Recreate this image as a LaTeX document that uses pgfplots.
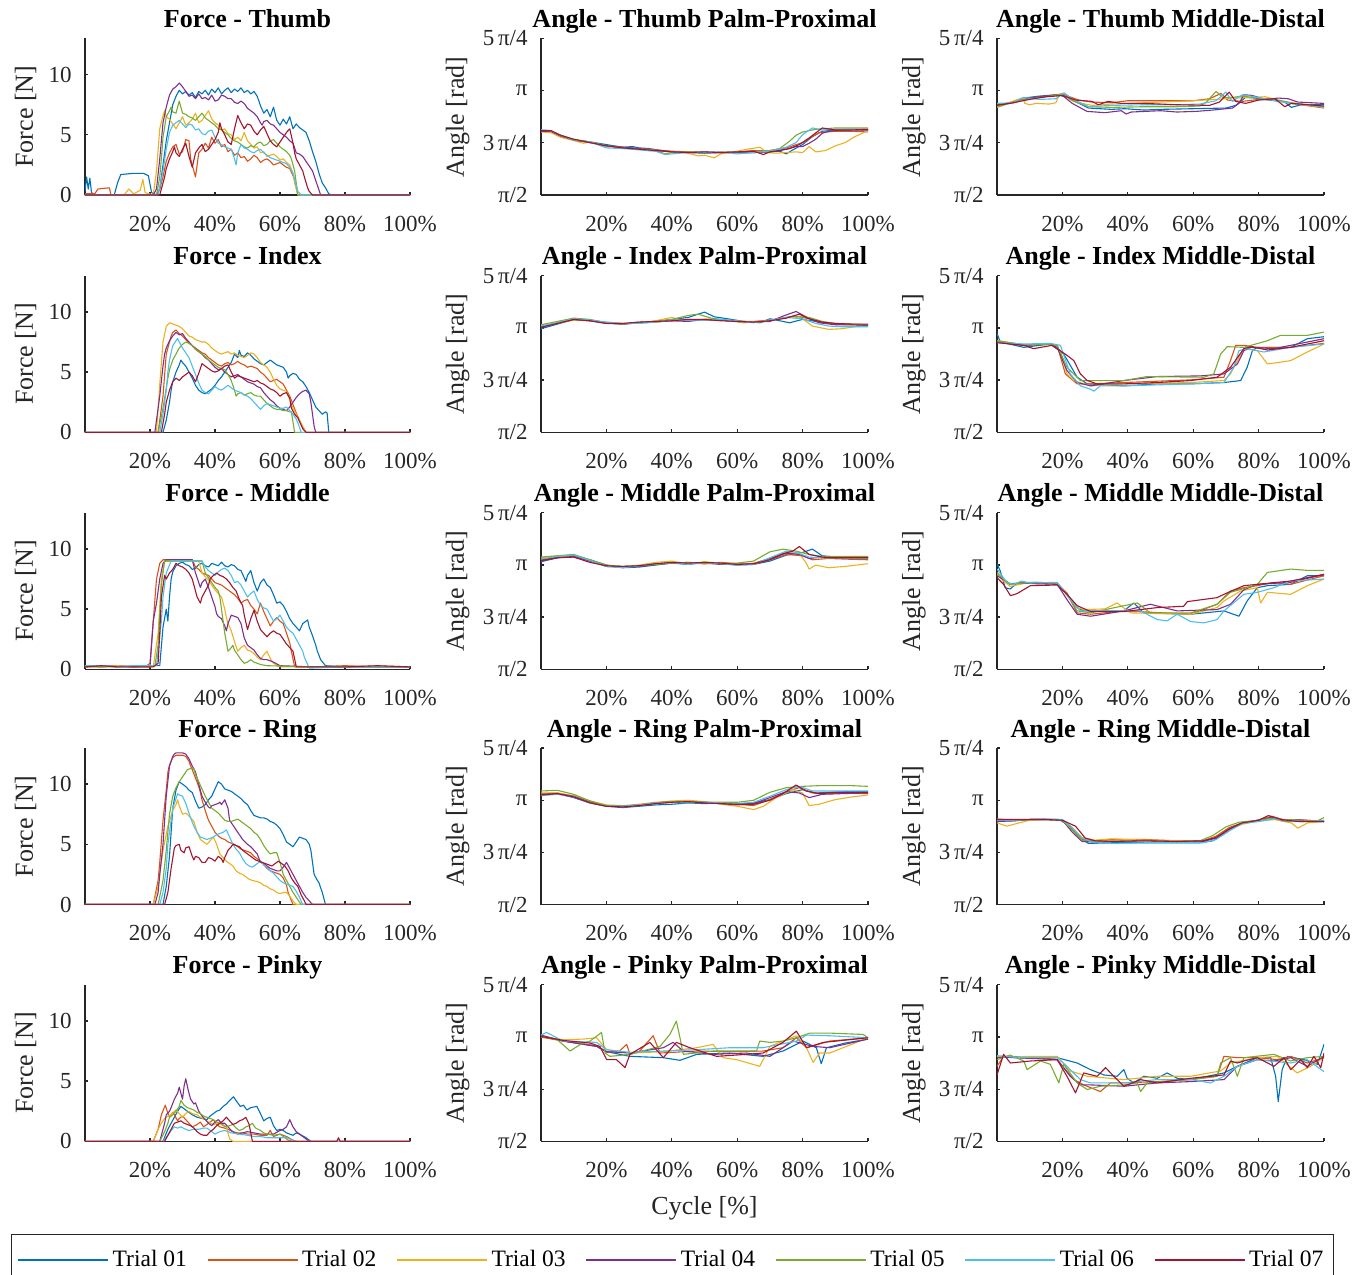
\documentclass[border=0pt]{standalone}
\usepackage{fontspec}
\setmainfont{Liberation Serif}
\usepackage{pgfplots}
\pgfplotsset{compat=1.18}
\definecolor{axcol}{gray}{0.15}
\definecolor{c1}{rgb}{0,0.447,0.741}
\definecolor{c2}{rgb}{0.85,0.325,0.098}
\definecolor{c3}{rgb}{0.929,0.694,0.125}
\definecolor{c4}{rgb}{0.494,0.184,0.556}
\definecolor{c5}{rgb}{0.466,0.674,0.188}
\definecolor{c6}{rgb}{0.301,0.745,0.933}
\definecolor{c7}{rgb}{0.635,0.078,0.184}
\newcommand\tickfont{\fontsize{11.5}{13}\selectfont}
\newcommand\labfont{\fontsize{13}{15}\selectfont}
\newcommand\titfont{\fontsize{13}{15}\selectfont\bfseries}
\newcommand\legfont{\fontsize{11.75}{14}\selectfont}
\pgfplotsset{
  base/.style={
    cycle list={{c1},{c2},{c3},{c4},{c5},{c6},{c7}},
    scale only axis, height=78.25pt, anchor=south west,
    axis lines*=left, xmin=0, xmax=100,
    xtick={20,40,60,80,100}, xticklabels={20\%,40\%,60\%,80\%,100\%},
    tick align=inside, major tick length=1.7pt,
    axis line style={axcol, line width=0.65pt},
    every tick/.style={axcol, line width=0.65pt},
    tick label style={font=\tickfont, text=axcol},
    xticklabel style={anchor=base, yshift=-18pt, inner sep=0pt},
    yticklabel style={anchor=east, xshift=-6.5pt, inner sep=0pt},
    title style={font=\titfont, anchor=base, at={(0.5,1)}, yshift=-0.5pt},
    no markers,
    every axis plot/.append style={line width=0.55pt, line join=round},
  },
  force/.style={base, width=162.5pt, ymin=0, ymax=13, ytick={0,5,10}, yticklabels={0,5,10},
    ylabel={Force [N]}, ylabel style={font=\labfont, text=axcol, at={(axis description cs:-0.16,0.5)}, anchor=base}},
  angle/.style={base, width=163.5pt, ymin=1.570796, ymax=3.926991,
    ytick={1.570796,2.356194,3.141593,3.926991}, yticklabels={π/2,3\,π/4,π,5\,π/4},
    ylabel={Angle [rad]}, ylabel style={font=\labfont, text=axcol, at={(axis description cs:-0.2355,0.5)}, anchor=base}},
}
\begin{document}
\begin{tikzpicture}
\useasboundingbox (0,0) rectangle (684.5pt,-637pt);
%================ ROW 1 =================
\begin{axis}[force, at={(42.5pt,-97.5pt)}, title={Force - Thumb}]
\addplot coordinates {(0,0.3)(0.5,1.5)(1,0.5)(1.5,1.4)(2,0.2)(3,0)(9,0)(10,1.0)(11,1.7)(15,1.8)(18,1.8)(19.5,1.6)(20.5,0.2)(22,0)(23,0.5)(24,2.5)(25,4.5)(26,6.0)(27,7.5)(28,8.2)(29,8.7)(30,8.4)(31,8.6)(32,8.3)(33,8.5)(34,8.1)(35,8.6)(36,8.4)(37,8.7)(38,8.3)(39,8.8)(40,8.5)(41,8.9)(42,8.4)(43,8.7)(44,8.9)(45,8.5)(46,8.8)(47,8.6)(48,8.9)(49,8.5)(50,8.7)(51,8.4)(52,8.6)(53,8.2)(54,7.4)(55,6.8)(56,7.1)(57,6.5)(58,7.3)(59,6.2)(60,5.8)(61,6.3)(62,5.9)(63,6.5)(64,5.5)(65,5.9)(66,5.6)(67,5.4)(68,5.2)(69,4.5)(70,3.6)(71,2.8)(72,1.8)(73,1.0)(74,0.6)(75,0.1)(76,0)(100,0)};
\addplot coordinates {(0,0.1)(3,0.1)(4,0.5)(7.5,0.6)(8,0)(22,0)(23,0.5)(24,1.5)(25,2.8)(26,3.5)(27,4.0)(28,4.2)(29,3.4)(30,3.6)(31,4.6)(32,4.5)(32.5,3.0)(33,2.5)(34,1.5)(35,3.5)(36,3.8)(37,4.3)(38,3.9)(39,4.8)(40,4.3)(41,4.6)(42,4.0)(43,4.2)(44,3.6)(45,3.8)(46,3.3)(47,3.5)(48,3.1)(49,3.2)(50,2.8)(51,3.0)(52,3.3)(53,3.1)(54,2.7)(55,2.9)(56,3.0)(57,2.8)(58,2.5)(59,2.6)(60,2.7)(61,2.5)(62,2.3)(63,2.2)(64,1.6)(64.5,1.2)(65.5,0)(100,0)};
\addplot coordinates {(0,0)(12,0)(13.5,0.5)(15,0.1)(17,0.4)(17.8,1.3)(18.5,0.2)(21,0)(22,2)(23,5.5)(24,6.6)(24.5,7.0)(25,6.5)(26,6.3)(27,5.9)(28,5.5)(29,6.0)(30,6.5)(31,5.8)(32,6.0)(33,6.3)(34,6.8)(35,6.0)(36,6.2)(37,6.6)(38,7.0)(39,6.3)(40,6.0)(41,5.8)(42,5.4)(43,5.5)(44,5.1)(45,5.0)(46,4.6)(47,4.8)(48,4.5)(49,5.2)(50,4.5)(51,4.2)(52,3.9)(53,4.0)(54,3.5)(55,3.6)(56,3.2)(57,3.3)(58,3.4)(59,3.2)(60,2.9)(61,3.0)(62,2.7)(63,2.5)(64,1.8)(64.5,1.0)(65.5,0)(100,0)};
\addplot coordinates {(0,0)(21,0)(22,0.5)(23,3)(24,6)(25,7.3)(25.5,7.8)(26,8.3)(27,8.8)(28,9.0)(29,9.3)(30,9.0)(31,8.6)(32,8.2)(33,8.3)(34,8.0)(35,8.4)(36,8.0)(37,8.1)(38,7.9)(39,8.3)(40,7.8)(41,7.9)(42,8.3)(43,8.2)(44,8.0)(45,8.0)(46,7.7)(47,7.6)(48,7.8)(49,7.6)(50,7.2)(51,7.0)(52,6.8)(53,6.5)(54,6.0)(54.5,5.8)(55,6.1)(56,6.2)(57,5.9)(58,5.8)(59,5.5)(60,5.2)(61,5.0)(62,4.8)(63,4.5)(64,4.3)(65,3.5)(66,3.4)(67,3.2)(68,2.8)(69,2.4)(70,2.0)(71,1.2)(71.5,0.8)(72.5,0)(100,0)};
\addplot coordinates {(0,0)(22,0)(23,1.5)(23.5,3)(24,4.8)(25,6.5)(26,7.0)(26.5,7.3)(27,6.9)(28,6.8)(29,7.8)(30,6.8)(31,6.7)(32,6.5)(33,6.4)(34,6.2)(35,6.5)(36,6.8)(37,6.4)(38,6.2)(39,6.0)(40,5.8)(41,5.5)(42,5.4)(43,5.2)(44,5.0)(45,4.7)(46,4.5)(47,4.4)(48,4.2)(49,4.0)(50,3.9)(51,4.1)(52,4.0)(53,4.3)(54,4.4)(55,4.1)(56,4.2)(57,4.5)(58,4.6)(59,4.3)(60,4.0)(61,3.8)(62,3.6)(63,3.3)(63.5,3.0)(64.5,2.0)(65.5,0)(100,0)};
\addplot coordinates {(0,0)(22.5,0)(24,2)(25,3.8)(25.5,4.5)(26,5.2)(27,5.8)(28,6.0)(29,6.2)(30,5.9)(31,5.6)(32,5.9)(33,5.8)(34,5.4)(35,5.5)(36,5.1)(37,5.0)(38,5.3)(39,5.4)(40,4.8)(41,4.3)(42,4.2)(43,4.0)(44,3.9)(45,3.8)(46,3.0)(46.5,2.5)(47,3.5)(48,4.2)(49,3.9)(50,3.8)(51,3.6)(52,3.5)(53,3.7)(54,3.8)(55,3.5)(56,3.3)(57,3.1)(58,3.0)(59,2.9)(60,2.8)(61,2.7)(62,2.6)(63,2.3)(64,1.8)(65.5,0.3)(66.5,0)(100,0)};
\addplot coordinates {(0,0)(23,0)(24.5,1.5)(25,2.2)(26,3.0)(27,3.6)(27.5,4.0)(28,3.5)(29,3.2)(30,3.8)(31,4.3)(32,3.2)(33,2.3)(34,3.5)(35,3.9)(36,4.2)(37,3.6)(38,3.8)(39,4.2)(40,4.6)(41,5.2)(41.5,6.0)(42,5.5)(43,5.0)(44,4.4)(45,4.2)(46,5.5)(47,6.6)(48,6.0)(49,5.5)(50,5.9)(51,5.8)(52,5.3)(53,5.0)(54,5.4)(55,5.7)(56,5.1)(57,4.5)(58,4.2)(59,4.0)(60,4.4)(61,4.8)(62,5.2)(63,5.5)(64,4.3)(64.5,3.5)(65,3.0)(66,2.5)(67,2.0)(67.5,1.5)(68.5,0.6)(69,0.3)(70,0)(100,0)};
\end{axis}
\begin{axis}[angle, at={(270.5pt,-97.5pt)}, title={Angle - Thumb Palm-Proximal}]
\addplot coordinates {(0,2.53)(3,2.53)(6,2.46)(10,2.40)(15,2.37)(20,2.33)(25,2.29)(28,2.30)(30,2.28)(33,2.27)(37,2.24)(40,2.22)(45,2.21)(50,2.20)(55,2.21)(60,2.21)(65,2.21)(70,2.22)(73,2.23)(75,2.19)(77,2.25)(80,2.33)(83,2.45)(86,2.53)(90,2.55)(95,2.56)(100,2.55)};
\addplot coordinates {(0,2.54)(3,2.53)(6,2.46)(10,2.40)(15,2.36)(20,2.31)(25,2.29)(30,2.27)(35,2.25)(40,2.23)(45,2.22)(50,2.21)(55,2.21)(60,2.22)(65,2.24)(70,2.24)(75,2.28)(80,2.36)(85,2.51)(90,2.53)(95,2.53)(100,2.52)};
\addplot coordinates {(0,2.52)(3,2.51)(6,2.44)(10,2.39)(13,2.35)(15,2.37)(20,2.31)(25,2.28)(30,2.26)(35,2.24)(40,2.22)(45,2.20)(48,2.16)(50,2.17)(53,2.13)(55,2.19)(60,2.23)(63,2.26)(67,2.29)(69,2.21)(72,2.20)(75,2.21)(78,2.22)(80,2.21)(82,2.30)(84,2.22)(87,2.24)(90,2.31)(93,2.36)(96,2.45)(100,2.54)};
\addplot coordinates {(0,2.53)(3,2.53)(6,2.46)(10,2.40)(15,2.36)(20,2.31)(25,2.29)(30,2.27)(33,2.24)(37,2.24)(40,2.22)(45,2.21)(50,2.21)(55,2.21)(60,2.21)(65,2.21)(70,2.22)(75,2.26)(78,2.30)(80,2.30)(82,2.35)(84,2.41)(86,2.50)(88,2.53)(92,2.55)(100,2.55)};
\addplot coordinates {(0,2.55)(3,2.54)(6,2.47)(10,2.41)(15,2.37)(20,2.31)(25,2.28)(30,2.26)(35,2.24)(38,2.19)(40,2.21)(45,2.22)(50,2.22)(55,2.21)(60,2.22)(65,2.22)(70,2.24)(73,2.27)(76,2.38)(78,2.47)(80,2.52)(84,2.56)(90,2.58)(95,2.58)(100,2.58)};
\addplot coordinates {(0,2.55)(3,2.54)(6,2.47)(10,2.40)(15,2.37)(20,2.28)(25,2.27)(30,2.25)(35,2.23)(38,2.18)(40,2.19)(45,2.21)(50,2.21)(55,2.22)(60,2.19)(65,2.21)(70,2.23)(75,2.29)(78,2.36)(80,2.48)(83,2.58)(86,2.55)(90,2.56)(95,2.56)(100,2.56)};
\addplot coordinates {(0,2.54)(3,2.54)(6,2.47)(10,2.41)(15,2.36)(20,2.31)(25,2.28)(30,2.26)(35,2.24)(40,2.22)(45,2.21)(50,2.22)(55,2.21)(60,2.22)(65,2.23)(68,2.18)(70,2.22)(73,2.24)(76,2.27)(79,2.33)(82,2.43)(86,2.58)(90,2.55)(95,2.55)(100,2.56)};
\end{axis}
\begin{axis}[angle, at={(498.5pt,-97.5pt)}, title={Angle - Thumb Middle-Distal}]
\addplot coordinates {(0,2.93)(4,2.95)(8,3.03)(13,3.06)(18,3.08)(20,3.09)(23,3.00)(28,2.88)(35,2.86)(39,2.87)(45,2.85)(50,2.86)(60,2.87)(70,2.88)(73,2.92)(76,3.04)(79,3.03)(85,2.99)(88,2.97)(90,2.89)(93,2.93)(100,2.93)};
\addplot coordinates {(0,2.91)(5,2.97)(10,3.03)(15,3.06)(20,3.09)(25,3.00)(29,2.97)(35,2.96)(40,2.99)(50,2.99)(60,2.99)(65,3.02)(68.5,3.10)(70.5,3.00)(75,2.98)(80,3.01)(85,3.00)(90,2.95)(100,2.88)};
\addplot coordinates {(0,2.90)(4,2.97)(7,3.02)(8,3.03)(8.5,2.95)(10,2.93)(12,2.95)(16,2.94)(18,2.96)(19,3.08)(21,3.06)(25,2.96)(29,2.92)(35,2.94)(45,2.96)(55,2.98)(60,2.99)(67,3.01)(72,3.03)(78,3.04)(82,3.05)(86,3.00)(90,2.95)(100,2.89)};
\addplot coordinates {(0,2.93)(5,2.96)(10,3.03)(15,3.06)(19,3.08)(20.5,3.05)(23,2.95)(27.5,2.83)(33,2.81)(38,2.84)(39.5,2.79)(41,2.82)(50,2.84)(55,2.82)(61,2.83)(66,2.85)(72,2.88)(74,2.95)(75.5,3.08)(78,3.07)(82,3.01)(86,3.03)(89,3.02)(92,2.97)(100,2.95)};
\addplot coordinates {(0,2.89)(5,2.97)(10,3.02)(15,3.05)(20,3.09)(23,2.99)(28,2.90)(35,2.89)(45,2.90)(55,2.90)(62,2.91)(64,2.97)(67,3.13)(69,3.04)(72,3.04)(75,3.06)(80,3.03)(85,3.01)(90,2.96)(100,2.90)};
\addplot coordinates {(0,2.95)(5,2.96)(8,3.04)(13,3.01)(18,3.02)(20.5,3.11)(23,3.02)(28,2.90)(35,2.92)(45,2.93)(55,2.93)(62,2.94)(67,2.99)(70,3.12)(72,2.98)(75,3.08)(80,3.04)(85,2.99)(90,2.95)(100,2.90)};
\addplot coordinates {(0,2.92)(5,2.96)(10,3.01)(15,3.05)(18,3.06)(20,3.07)(24,3.00)(29,2.98)(31,2.93)(34,2.98)(38,2.95)(45,2.95)(55,2.93)(65,2.92)(68,2.97)(71,3.12)(73,2.98)(76,2.95)(80,3.00)(85,3.02)(88,2.90)(90,2.95)(100,2.91)};
\end{axis}
%================ ROW 2 =================
\begin{axis}[force, at={(42.5pt,-216.15pt)}, title={Force - Index}]
\addplot coordinates {(0,0)(24,0)(25,1.0)(26,2.5)(26.5,3.5)(27,4.2)(28,5.0)(29,5.6)(29.5,6.0)(30,5.8)(31,5.5)(32,5.0)(33,4.5)(34,3.9)(35,3.5)(36,3.3)(37,3.2)(38,3.4)(39,3.6)(40,3.9)(41,4.3)(42,4.6)(43,5.0)(44,5.4)(45,5.8)(46,6.5)(47,6.2)(47.5,6.8)(48,6.4)(49,6.3)(50,6.6)(51,6.4)(52,6.1)(53,5.9)(54,5.7)(55,5.6)(56,5.8)(57,6.0)(58,5.8)(59,5.6)(60,5.5)(61,5.4)(62,5.0)(62.5,4.5)(63,4.7)(64,4.9)(65,4.8)(65.5,4.6)(66,4.4)(67,4.2)(68,3.8)(69,3.3)(70,2.7)(71,2.1)(72,1.8)(73,1.5)(74,1.7)(74.5,1.6)(75,0)(100,0)};
\addplot coordinates {(0,0)(22.5,0)(23,1)(24,3)(25,6.5)(26,7.5)(26.5,8.0)(27,8.3)(28,8.5)(29,8.2)(30,8.0)(31,7.7)(32,7.4)(33,7.2)(34,7.0)(35,6.8)(36,6.6)(37,6.5)(38,6.2)(39,6.0)(40,5.8)(41,5.6)(42,5.5)(43,5.7)(44,5.8)(45,5.6)(46,5.7)(47,5.9)(48,5.7)(49,5.6)(50,5.4)(51,5.5)(52,5.4)(53,5.3)(54,5.0)(55,4.8)(56,4.5)(57,4.2)(58,4.3)(59,4.4)(60,4.2)(61,4.0)(62,3.5)(63,3.0)(64,2.3)(65,1.6)(66,1.0)(67,0.4)(68,0)(100,0)};
\addplot coordinates {(0,0)(22,0)(23,4)(24,7.5)(25,8.8)(26,9.1)(27,9.0)(28,8.9)(29,8.8)(30,8.6)(31,8.3)(32,8.0)(33,7.9)(34,7.7)(35,7.6)(36,7.5)(37,7.5)(38,7.3)(39,7.0)(40,6.8)(41,6.6)(42,6.5)(43,6.6)(44,6.7)(45,6.5)(46,6.6)(47,6.4)(48,6.3)(49,6.2)(50,6.4)(51,6.6)(52,6.5)(53,6.2)(54,5.8)(55,5.6)(56,5.4)(57,5.0)(58,4.4)(59,3.9)(60,3.6)(61,3.5)(62,3.4)(63,2.8)(64,2.0)(65,1.5)(66,1.0)(67,0.5)(68,0)(100,0)};
\addplot coordinates {(0,0)(21.5,0)(23,3)(24,5.5)(24.5,6.5)(25,7.0)(26,7.6)(27,8.0)(28,8.3)(29,8.1)(30,8.2)(31,7.8)(32,7.5)(33,7.2)(34,6.9)(35,6.7)(36,6.5)(37,6.2)(38,6.0)(39,5.7)(40,5.4)(41,5.2)(42,5.3)(43,5.0)(44,4.8)(45,4.6)(46,4.7)(47,4.8)(48,4.6)(49,4.4)(50,4.2)(51,4.1)(52,4.0)(53,3.8)(54,3.7)(55,3.3)(56,3.0)(57,2.7)(58,2.5)(59,2.2)(60,2.0)(61,1.9)(62,1.8)(63,2.1)(64,2.5)(65,2.9)(66,3.2)(67,3.4)(68,3.5)(69,3.2)(69.5,2.5)(70.5,0.5)(71,0)(100,0)};
\addplot coordinates {(0,0)(22.5,0)(24,2)(25.5,4.5)(26,5.2)(27,6.0)(28,6.5)(29,7.0)(30,7.3)(31,7.5)(32,7.4)(33,7.2)(34,6.9)(35,6.7)(36,6.5)(37,6.3)(38,6.0)(39,5.8)(40,5.6)(41,5.4)(42,5.3)(43,5.2)(44,4.8)(45,4.3)(46,3.5)(46.5,3.0)(47,3.2)(48,3.3)(49,3.1)(50,3.2)(51,3.3)(52,3.1)(53,3.0)(54,3.0)(55,2.7)(56,2.4)(57,2.2)(58,2.0)(59,1.9)(60,1.9)(61,1.8)(62,1.8)(63,1.7)(63.5,1.7)(64.5,0)(100,0)};
\addplot coordinates {(0,0)(23,0)(24,1.5)(25,3.5)(25.5,5)(26,6.0)(27,7.2)(28,7.6)(28.5,7.8)(29,7.5)(30,7.0)(31,6.6)(32,6.2)(33,5.5)(34,4.8)(35,4.1)(36,3.5)(37,3.3)(38,3.2)(39,3.5)(40,3.8)(41,3.6)(42,3.5)(43,3.7)(44,3.9)(45,3.7)(46,3.5)(47,3.4)(48,3.3)(49,3.1)(50,3.0)(51,2.8)(52,2.5)(53,2.2)(54,1.9)(55,2.2)(56,2.4)(57,2.3)(58,2.2)(59,2.1)(60,2.0)(61,2.0)(62,2.1)(63,1.8)(64,1.5)(65,1.1)(65.5,0.8)(66.5,0)(100,0)};
\addplot coordinates {(0,0)(23.5,0)(24.5,1.5)(25,2.5)(26,3.5)(27,4.2)(28,4.5)(29,4.3)(30,4.6)(31,4.8)(32,5.0)(33,4.7)(34,4.2)(35,4.9)(36,5.7)(37,5.5)(38,5.3)(39,5.1)(40,5.0)(41,5.1)(42,5.3)(43,5.5)(44,5.6)(45,5.0)(46,4.5)(47,4.7)(48,4.6)(49,4.5)(50,4.4)(51,4.3)(52,4.2)(53,4.3)(54,4.1)(55,4.0)(56,3.8)(57,3.6)(58,3.5)(59,3.3)(60,3.0)(61,3.2)(62,3.3)(63,2.8)(63.5,2.0)(64.5,1.5)(65.5,1.2)(67,0.3)(68,0)(100,0)};
\end{axis}
\begin{axis}[angle, at={(270.5pt,-216.15pt)}, title={Angle - Index Palm-Proximal}]
\addplot coordinates {(0,3.13)(5,3.20)(10,3.27)(15,3.25)(20,3.22)(25,3.20)(30,3.22)(35,3.24)(40,3.27)(45,3.30)(50,3.38)(53,3.31)(57,3.28)(62,3.24)(67,3.22)(70,3.28)(73,3.25)(76,3.22)(80,3.27)(84,3.24)(88,3.21)(93,3.20)(100,3.19)};
\addplot coordinates {(0,3.16)(5,3.22)(10,3.27)(15,3.26)(20,3.22)(25,3.20)(30,3.23)(35,3.24)(40,3.25)(45,3.27)(50,3.26)(55,3.26)(60,3.24)(65,3.24)(70,3.26)(75,3.30)(78,3.32)(82,3.28)(86,3.22)(90,3.20)(95,3.19)(100,3.18)};
\addplot coordinates {(0,3.18)(5,3.21)(10,3.26)(15,3.25)(20,3.23)(25,3.21)(30,3.22)(35,3.25)(40,3.30)(43,3.26)(47,3.26)(52,3.28)(57,3.25)(62,3.22)(67,3.24)(72,3.27)(77,3.31)(80,3.28)(83,3.17)(88,3.12)(92,3.13)(96,3.16)(100,3.17)};
\addplot coordinates {(0,3.16)(5,3.21)(10,3.27)(15,3.25)(20,3.21)(25,3.20)(30,3.22)(35,3.23)(40,3.25)(45,3.24)(50,3.27)(55,3.26)(60,3.24)(65,3.23)(70,3.24)(74,3.32)(78,3.39)(81,3.31)(85,3.22)(90,3.19)(95,3.19)(100,3.18)};
\addplot coordinates {(0,3.19)(5,3.24)(10,3.29)(15,3.27)(20,3.22)(25,3.20)(30,3.22)(35,3.24)(40,3.27)(45,3.33)(48,3.35)(52,3.29)(57,3.26)(62,3.24)(67,3.23)(72,3.27)(77,3.32)(82,3.30)(86,3.24)(90,3.21)(95,3.20)(100,3.19)};
\addplot coordinates {(0,3.17)(5,3.22)(10,3.28)(15,3.26)(20,3.23)(25,3.21)(30,3.21)(35,3.23)(40,3.26)(45,3.26)(50,3.26)(55,3.27)(60,3.25)(65,3.22)(70,3.26)(75,3.30)(80,3.28)(84,3.21)(88,3.17)(92,3.16)(100,3.16)};
\addplot coordinates {(0,3.15)(5,3.21)(10,3.27)(15,3.25)(20,3.21)(25,3.21)(30,3.23)(35,3.24)(40,3.25)(45,3.27)(50,3.27)(55,3.25)(60,3.24)(65,3.23)(70,3.25)(75,3.29)(79,3.35)(82,3.28)(86,3.23)(90,3.21)(95,3.20)(100,3.20)};
\end{axis}
\begin{axis}[angle, at={(498.5pt,-216.15pt)}, title={Angle - Index Middle-Distal}]
\addplot coordinates {(0,3.06)(1,2.93)(8.2,2.85)(16.3,2.90)(20.4,2.75)(24.5,2.40)(27.6,2.30)(38.8,2.27)(49,2.30)(59.2,2.30)(69.4,2.32)(74.5,2.35)(76.5,2.55)(78.1,2.80)(79.6,2.85)(89.8,2.85)(94.9,2.98)(100,3.01)};
\addplot coordinates {(0,2.93)(8.2,2.88)(16.3,2.90)(18.4,2.88)(20.9,2.45)(24.5,2.30)(28.6,2.30)(38.8,2.32)(59.2,2.36)(69.4,2.40)(71.4,2.65)(73,2.88)(75.5,2.88)(79.6,2.85)(89.8,2.85)(100,2.91)};
\addplot coordinates {(0,2.95)(8.2,2.89)(16.3,2.91)(19.4,2.80)(21.4,2.45)(23.5,2.35)(28.6,2.27)(38.8,2.30)(59.2,2.32)(69.4,2.35)(71.4,2.45)(73.5,2.65)(75.5,2.83)(79.6,2.80)(82.7,2.60)(85.7,2.62)(89.8,2.65)(94.9,2.78)(100,2.90)};
\addplot coordinates {(0,2.93)(8.2,2.88)(16.3,2.90)(18.4,2.85)(21.4,2.50)(24.5,2.32)(28.6,2.27)(38.8,2.35)(49,2.41)(62.2,2.42)(69.4,2.45)(73.5,2.60)(75.5,2.80)(77.6,2.85)(84.7,2.83)(100,2.98)};
\addplot coordinates {(0,2.95)(8.2,2.89)(16.3,2.89)(18.4,2.88)(21.4,2.55)(25.5,2.35)(28.6,2.35)(38.8,2.35)(45.9,2.41)(63.3,2.40)(66.3,2.45)(68.4,2.75)(70.4,2.86)(75.5,2.85)(82.7,2.95)(86.7,3.03)(94.9,3.03)(100,3.08)};
\addplot coordinates {(0,2.92)(8.2,2.90)(16.3,2.91)(19.4,2.88)(22.4,2.45)(25.5,2.27)(28.6,2.22)(29.6,2.19)(31.6,2.27)(38.8,2.27)(59.2,2.30)(69.4,2.32)(72.4,2.55)(74,2.80)(76.5,2.83)(81.6,2.78)(89.8,2.85)(100,2.90)};
\addplot coordinates {(0,2.92)(8.2,2.88)(11.2,2.83)(16.8,2.88)(18.4,2.83)(21.4,2.73)(23.5,2.65)(25.5,2.45)(27.6,2.35)(30.6,2.30)(38.8,2.30)(49,2.32)(59.2,2.35)(67.3,2.40)(71.4,2.55)(75.5,2.83)(77.6,2.86)(82.7,2.81)(89.8,2.85)(100,2.95)};
\end{axis}
%================ ROW 3 =================
\begin{axis}[force, at={(42.5pt,-334.65pt)}, title={Force - Middle}]
\addplot coordinates {(0,0.3)(5,0.2)(10,0.3)(15,0.2)(20,0.3)(23,0.3)(24,3.5)(25,5.0)(25.5,4.0)(26,6.0)(26.5,7.5)(27,8.1)(28,8.6)(29,8.8)(30,8.9)(31,8.7)(32,8.6)(33,8.3)(34,8.4)(35,8.7)(36,8.8)(37,8.6)(38,8.5)(39,8.8)(40,8.7)(41,8.6)(42,8.9)(43,8.6)(44,8.5)(45,8.7)(46,8.6)(47,8.3)(48,8.2)(49,7.6)(49.5,7.3)(50,7.8)(51,8.2)(52,7.2)(53,6.5)(54,7.2)(55,7.5)(56,7.0)(57,6.8)(58,6.2)(59,5.5)(60,5.6)(61,5.3)(62,4.8)(63,4.2)(64,3.8)(65,3.5)(66,3.2)(67,3.8)(68.5,4.1)(69,3.5)(70,2.8)(71,2.0)(71.5,1.5)(72.5,0.8)(74,0.3)(80,0.2)(90,0.2)(100,0.2)};
\addplot coordinates {(0,0.3)(5,0.2)(10,0.3)(15,0.2)(19,0.3)(20,0.5)(21,4)(22,7.5)(23,8.8)(24,9.1)(33,9.1)(34,8.5)(35,8.3)(36,8.0)(37,7.9)(38,7.8)(39,7.5)(40,7.2)(41,7.1)(42,7.0)(43,6.8)(44,6.6)(45,6.4)(46,6.2)(47,5.9)(48,5.5)(49,5.7)(50,5.8)(51,5.3)(52,5.0)(53,4.6)(54,5.5)(55,4.8)(56,4.2)(57,3.6)(58,4.0)(59,4.3)(60,4.0)(61,3.8)(62,3.0)(63,2.2)(63.5,1.5)(64.5,0.2)(70,0.2)(80,0.3)(90,0.2)(100,0.2)};
\addplot coordinates {(0,0.2)(5,0.2)(10,0.3)(15,0.2)(21,0.2)(22.5,3)(23.5,7.5)(24.5,9.0)(35,9.0)(36,8.0)(37,7.7)(38,7.4)(39,7.0)(40,6.6)(41,6.3)(42,6.0)(43,5.0)(43.5,4.3)(44,3.8)(45,3.2)(46,2.3)(47,1.5)(48,1.8)(49,2.0)(50,1.6)(51,1.5)(52,1.3)(53,1.0)(54,0.8)(55,1.2)(56,1.5)(57,0.9)(58,0.5)(60,0.2)(70,0.2)(80,0.2)(90,0.3)(100,0.2)};
\addplot coordinates {(0,0.2)(5,0.3)(10,0.2)(15,0.2)(20,0.2)(21,4)(22,5.5)(23,7.5)(24,8.8)(25,9.1)(33,9.1)(34,8.0)(35,7.2)(35.5,6.8)(36,7.2)(37,7.5)(38,6.8)(39,6.0)(40,5.2)(40.5,4.6)(41,4.4)(42,4.2)(43,3.6)(43.5,3.2)(44,3.8)(45,4.5)(46,4.4)(47,4.3)(48,3.8)(48.5,3.2)(49,2.6)(50,2.0)(51,1.8)(52,1.6)(53,1.2)(54,0.9)(55,0.8)(56,0.8)(57,0.7)(58,0.6)(60,0.3)(70,0.2)(80,0.2)(90,0.2)(100,0.2)};
\addplot coordinates {(0,0.2)(5,0.2)(10,0.2)(15,0.3)(20,0.2)(21.5,0.3)(22.5,2)(23.5,7)(24.5,9.0)(36,9.0)(37,8.0)(38,7.6)(39,7.2)(40,6.8)(41,6.5)(41.5,6.0)(42,5.0)(42.5,4.0)(43,3.0)(44,1.5)(45,1.8)(45.5,2.0)(46,1.6)(47,1.2)(48,0.8)(49,0.5)(50,0.6)(51,0.8)(52,0.6)(53,0.5)(54,0.4)(56,0.3)(70,0.2)(80,0.2)(100,0.2)};
\addplot coordinates {(0,0.3)(5,0.3)(10,0.2)(15,0.3)(22,0.3)(23.5,4)(24,6)(25,8.0)(26.5,9.0)(36,9.0)(37,8.5)(38,8.2)(39,8.0)(40,7.8)(41,8.1)(42,8.3)(43,8.4)(44,8.2)(45,7.8)(46,7.2)(47,7.3)(48,7.0)(49,6.5)(50,6.0)(51,6.3)(52,6.5)(53,5.8)(54,5.3)(55,5.1)(56,5.0)(57,4.5)(58,4.0)(59,4.2)(60,4.5)(61,4.0)(62,3.5)(63,3.2)(64,3.0)(65,2.5)(66,2.0)(67,1.5)(67.5,1.0)(69,0.1)(80,0.2)(90,0.2)(100,0.2)};
\addplot coordinates {(0,0.2)(5,0.3)(10,0.2)(15,0.2)(21,0.2)(22.5,0.5)(23,3)(23.5,6)(24.5,7.8)(25,7.5)(26,8.0)(27,8.3)(28,8.8)(29,8.6)(30,8.5)(31,8.3)(32,8.0)(33,7.5)(33.5,7.0)(34.5,6.0)(35.5,5.5)(36,6.0)(37,6.5)(38,7.0)(38.5,7.5)(39.5,7.8)(40.5,8.0)(41.5,7.8)(42.5,7.7)(43.5,7.5)(44.5,7.2)(45.5,6.8)(46.5,6.5)(47.5,5.8)(48.5,5.3)(49,4.5)(50,3.3)(51,4.2)(52,4.9)(53,4.0)(54,3.3)(55,3.0)(56,2.7)(57,3.0)(58,3.2)(59,3.0)(60,2.9)(61,2.5)(62,2.1)(63,1.8)(64,1.5)(65,0.2)(70,0.2)(80,0.2)(90,0.3)(100,0.2)};
\end{axis}
\begin{axis}[angle, at={(270.5pt,-334.65pt)}, title={Angle - Middle Palm-Proximal}]
\addplot coordinates {(0,3.19)(5,3.25)(10,3.28)(15,3.22)(20,3.14)(25,3.10)(30,3.11)(35,3.14)(40,3.17)(45,3.15)(50,3.18)(55,3.16)(60,3.14)(65,3.15)(70,3.20)(75,3.29)(80,3.33)(83,3.38)(86,3.28)(90,3.26)(95,3.26)(100,3.25)};
\addplot coordinates {(0,3.22)(5,3.26)(10,3.27)(15,3.21)(20,3.12)(25,3.11)(30,3.13)(35,3.16)(40,3.18)(45,3.17)(50,3.16)(55,3.18)(60,3.16)(65,3.15)(70,3.22)(75,3.30)(80,3.28)(83,3.22)(88,3.24)(93,3.23)(100,3.22)};
\addplot coordinates {(0,3.25)(5,3.28)(10,3.26)(15,3.20)(20,3.13)(25,3.12)(30,3.14)(35,3.18)(40,3.20)(45,3.16)(50,3.19)(55,3.17)(60,3.15)(65,3.17)(70,3.24)(75,3.33)(79,3.31)(81,3.18)(82,3.08)(84,3.14)(88,3.10)(93,3.12)(100,3.16)};
\addplot coordinates {(0,3.20)(5,3.25)(10,3.27)(15,3.20)(20,3.12)(25,3.11)(30,3.12)(35,3.15)(40,3.17)(45,3.18)(50,3.17)(55,3.15)(60,3.15)(65,3.16)(70,3.24)(75,3.32)(79,3.30)(82,3.24)(86,3.26)(90,3.25)(100,3.25)};
\addplot coordinates {(0,3.26)(5,3.28)(10,3.30)(15,3.22)(20,3.14)(25,3.12)(30,3.13)(35,3.15)(40,3.17)(45,3.18)(50,3.16)(55,3.17)(60,3.17)(65,3.20)(70,3.34)(74,3.38)(78,3.35)(82,3.30)(86,3.27)(90,3.27)(100,3.27)};
\addplot coordinates {(0,3.23)(5,3.27)(10,3.29)(15,3.21)(20,3.12)(25,3.10)(30,3.13)(35,3.16)(40,3.18)(45,3.15)(50,3.18)(55,3.16)(60,3.14)(65,3.15)(70,3.25)(75,3.35)(78,3.33)(82,3.26)(86,3.25)(90,3.25)(100,3.24)};
\addplot coordinates {(0,3.21)(5,3.25)(10,3.26)(15,3.18)(20,3.13)(25,3.12)(30,3.13)(35,3.16)(40,3.18)(45,3.17)(50,3.18)(55,3.17)(60,3.15)(65,3.16)(70,3.22)(74,3.31)(77,3.35)(79,3.42)(82,3.30)(86,3.26)(90,3.25)(100,3.25)};
\end{axis}
\begin{axis}[angle, at={(498.5pt,-334.65pt)}, title={Angle - Middle Middle-Distal}]
\addplot coordinates {(0,3.16)(1,3.05)(2.5,2.80)(4,2.78)(6,2.86)(10,2.88)(18.4,2.87)(21.4,2.70)(24.5,2.50)(26.5,2.45)(38.8,2.45)(41.8,2.57)(44.9,2.42)(59.2,2.40)(69.4,2.45)(74,2.37)(76.5,2.60)(79.6,2.80)(82.7,2.83)(89.8,2.85)(94.9,2.98)(100,2.98)};
\addplot coordinates {(0,3.03)(2,2.90)(4,2.85)(8,2.88)(12,2.86)(18.4,2.86)(21.4,2.72)(24.5,2.42)(28.6,2.40)(38.8,2.45)(59.2,2.40)(67.3,2.55)(71.4,2.75)(75.5,2.80)(79.6,2.83)(84.7,2.88)(89.8,2.85)(100,2.98)};
\addplot coordinates {(0,3.00)(2,2.90)(4,2.82)(8,2.86)(12,2.88)(18.4,2.87)(21.4,2.68)(24.5,2.50)(26.5,2.47)(33,2.48)(36.7,2.57)(40.8,2.42)(59.2,2.40)(67.3,2.50)(69.4,2.60)(74.5,2.75)(79.6,2.80)(80.6,2.57)(82.7,2.73)(89.8,2.70)(94.9,2.83)(100,2.93)};
\addplot coordinates {(0,2.98)(2,2.92)(4,2.86)(8,2.87)(12,2.86)(18.4,2.85)(21.4,2.62)(24.5,2.40)(28.6,2.37)(38.8,2.45)(46.9,2.55)(55.1,2.45)(67.3,2.47)(71.4,2.55)(75.5,2.77)(79.6,2.85)(89.8,2.88)(100,3.00)};
\addplot coordinates {(0,3.02)(2,2.93)(4,2.85)(8,2.87)(12,2.88)(18.4,2.87)(21.4,2.70)(24.5,2.45)(28.6,2.42)(36,2.50)(42.9,2.57)(46.9,2.42)(59.2,2.42)(67.3,2.55)(71.4,2.73)(76.5,2.80)(79.6,2.85)(82.7,3.03)(89.8,3.08)(95,3.06)(100,3.06)};
\addplot coordinates {(0,3.08)(1.5,2.98)(3,2.88)(5,2.85)(7.5,2.90)(10,2.87)(18.4,2.88)(22,2.65)(25.5,2.45)(28.6,2.45)(43.9,2.45)(49,2.32)(52,2.30)(55.1,2.40)(59.2,2.29)(63.3,2.27)(67.3,2.32)(69.4,2.45)(75.5,2.70)(79.6,2.73)(84.7,2.80)(89.8,2.90)(100,2.93)};
\addplot coordinates {(0,2.95)(2,2.85)(4.1,2.68)(6.1,2.71)(10.2,2.83)(18.4,2.84)(21.4,2.70)(24.5,2.53)(28.6,2.44)(38.8,2.44)(49,2.50)(57.1,2.52)(58.2,2.59)(67.3,2.65)(69.4,2.70)(75.5,2.83)(79.6,2.85)(89.8,2.90)(100,3.00)};
\end{axis}
%================ ROW 4 =================
\begin{axis}[force, at={(42.5pt,-452.25pt)}, title={Force - Ring}]
\addplot coordinates {(0,0)(24,0)(25,1.5)(26,4)(26.5,6)(27,8)(28,9.5)(29,10.2)(30,10.0)(31,9.8)(32,9.5)(33,9.3)(34,8.6)(35,8.0)(36,8.1)(37,8.3)(38,8.7)(39,9.0)(40,9.6)(41,10.2)(42,10.0)(43,9.6)(44,9.5)(45,9.4)(46,9.2)(47,9.0)(48,8.8)(49,8.5)(50,8.3)(51,7.8)(52,7.4)(53,7.3)(54,7.2)(55,7.2)(56,7.1)(57,6.9)(58,6.8)(59,6.6)(60,6.3)(61,5.8)(62,5.2)(63,5.0)(64,4.8)(65,5.2)(66,5.6)(67,5.5)(68,5.4)(69,5.0)(69.5,4.5)(70.5,2.5)(71.5,2.0)(72,1.8)(73,1.0)(73.5,0.5)(74,0)(100,0)};
\addplot coordinates {(0,0)(21,0)(22.5,2)(23,3.5)(24,7)(25,9.5)(25.5,11)(26,11.6)(27,12.2)(28,12.4)(29,12.4)(30,12.4)(31,12.3)(32,11.9)(32.5,11.5)(33,11.2)(34,10.5)(35,9.8)(35.5,9.3)(36,8.7)(37,7.8)(38,7.0)(39,6.5)(40,6.0)(41,5.7)(42,5.5)(43,5.4)(44,5.2)(45,5.1)(46,5.0)(47,4.8)(48,4.6)(49,4.5)(50,4.4)(51,4.3)(52,4.0)(53,3.8)(54,3.6)(55,3.3)(56,3.0)(57,2.8)(58,2.7)(59,2.6)(60,2.5)(61,2.2)(62,1.6)(62.5,1.0)(64,0)(100,0)};
\addplot coordinates {(0,0)(21,0)(22.5,1.5)(24,4.5)(25.5,6.5)(27,7.8)(28,8.3)(28.5,8.7)(29,8.2)(30,7.5)(31,7.6)(31.5,7.5)(32.5,7.2)(33.5,6.9)(34.5,6.0)(35.5,5.4)(36.5,5.2)(37.5,5.0)(38.5,5.3)(39.5,5.6)(40.5,5.0)(41.5,4.2)(42.5,3.9)(43.5,3.6)(44.5,3.4)(45.5,3.2)(46.5,2.8)(47.5,2.6)(48.5,2.5)(49.5,2.3)(50.5,2.1)(51.5,2.0)(53,1.9)(54,1.8)(55,1.6)(56,1.5)(57,1.3)(58,1.2)(59,1.0)(60,0.9)(61,1.0)(62,1.0)(63,0.7)(64,0.3)(65,0)(100,0)};
\addplot coordinates {(0,0)(21.5,0)(22.5,1)(23,2.5)(24,5)(25,9)(26,11.5)(27,12.3)(27.5,12.5)(28,12.6)(29,12.6)(30,12.6)(31,12.5)(32,12.1)(32.5,11.8)(33,11.5)(34,11.0)(35,10.0)(35.5,9.5)(36,9.0)(37,8.5)(38,8.1)(38.5,8.0)(39,8.2)(40,8.3)(41,8.4)(41.5,8.5)(42,8.3)(43,8.7)(44,8.0)(44.5,7.0)(45.5,6.6)(46.5,6.2)(47.5,5.8)(48.5,5.4)(50,5.0)(51,4.8)(52,4.5)(53,4.2)(54,3.5)(55,3.4)(56,3.2)(57,3.0)(58,2.9)(59,2.8)(60,2.8)(61,3.1)(62,3.5)(63,3.0)(64,2.5)(65,2.0)(66,1.5)(67,1.0)(68,0.6)(69,0.3)(70,0)(100,0)};
\addplot coordinates {(0,0)(22.5,0)(24,2)(25,4.5)(25.5,6)(26,7.5)(27,9)(28,9.7)(29,10.2)(30,10.6)(31,11.0)(31.5,11.2)(32.5,11.3)(33.5,11.3)(34,10.8)(35,10.2)(36,9.6)(37,9.0)(38,8.5)(39,8.0)(40,7.8)(41,7.6)(42,7.3)(43,7.0)(44,6.9)(45,6.9)(46,7.0)(47,7.1)(48,6.9)(49,6.7)(50,6.5)(51,6.3)(52,6.0)(53,5.8)(54,5.4)(55,4.9)(56,4.5)(57,4.2)(58,4.3)(59,4.3)(60,3.5)(61,2.5)(62,2.0)(63,1.5)(64,1.0)(65,0.6)(66.5,0)(100,0)};
\addplot coordinates {(0,0)(23,0)(24,1)(25,3)(25.5,5)(26.5,7)(27,8)(28,8.8)(28.5,9.2)(29,9.1)(30,9.0)(31,8.4)(31.5,8.0)(32.5,7.2)(33.5,6.5)(34.5,6.0)(35.5,5.6)(36.5,5.5)(37.5,5.4)(38.5,5.5)(39.5,5.6)(40.5,5.8)(41.5,5.9)(42.5,6.0)(43.5,6.2)(44.5,5.6)(45.5,5.0)(46.5,4.6)(47.5,4.3)(48.5,3.8)(49.5,3.4)(50.5,3.2)(51.5,3.1)(52.5,3.3)(54,3.6)(55,3.3)(56,3.1)(57,2.8)(58,2.6)(59,2.3)(60,2.0)(61,1.8)(62,1.7)(63,1.6)(64,1.5)(65,1.1)(66,0.6)(67,0)(100,0)};
\addplot coordinates {(0,0)(24.5,0)(25.5,1)(26.5,3)(27.5,4.7)(28,4.9)(29,5.0)(29.5,4.5)(30.5,4.3)(31,4.7)(32,4.8)(33,4.0)(33.5,3.7)(34,4.0)(35,3.9)(36,3.5)(37,3.5)(38,3.9)(39,3.8)(40,3.6)(41,4.0)(42,3.8)(42.5,3.5)(43,3.9)(44,4.5)(45,4.8)(45.5,5.0)(46.5,4.9)(47.5,4.8)(48.5,4.5)(49.5,4.3)(50.5,4.1)(51.5,3.9)(52.5,3.7)(53.5,3.6)(54.5,3.5)(55.5,3.4)(56.5,3.3)(57.5,3.2)(58.5,3.4)(59.5,3.6)(60.5,3.4)(61.5,3.2)(62.5,2.8)(63.5,2.2)(64.5,1.8)(65.5,1.5)(66.5,0.8)(67.5,0.3)(68,0)(100,0)};
\end{axis}
\begin{axis}[angle, at={(270.5pt,-452.25pt)}, title={Angle - Ring Palm-Proximal}]
\addplot coordinates {(0,3.22)(5,3.24)(10,3.18)(15,3.10)(20,3.05)(25,3.03)(30,3.05)(35,3.07)(40,3.08)(45,3.10)(50,3.09)(55,3.10)(60,3.08)(65,3.10)(70,3.15)(75,3.24)(80,3.30)(84,3.25)(88,3.26)(94,3.27)(100,3.27)};
\addplot coordinates {(0,3.24)(5,3.25)(10,3.20)(15,3.12)(20,3.06)(25,3.04)(30,3.06)(35,3.09)(40,3.11)(45,3.12)(50,3.11)(55,3.10)(60,3.08)(65,3.06)(70,3.15)(75,3.27)(79,3.33)(83,3.25)(88,3.24)(94,3.25)(100,3.24)};
\addplot coordinates {(0,3.25)(5,3.25)(10,3.21)(15,3.13)(20,3.07)(25,3.06)(30,3.08)(35,3.11)(40,3.13)(45,3.14)(50,3.12)(55,3.08)(60,3.05)(65,3.00)(68,3.05)(72,3.18)(77,3.30)(80,3.25)(82,3.06)(85,3.08)(90,3.15)(95,3.19)(100,3.22)};
\addplot coordinates {(0,3.23)(5,3.24)(10,3.20)(15,3.11)(20,3.05)(25,3.05)(30,3.07)(35,3.10)(40,3.12)(45,3.11)(50,3.11)(55,3.09)(60,3.07)(65,3.09)(70,3.18)(75,3.27)(79,3.25)(82,3.18)(86,3.23)(92,3.24)(100,3.25)};
\addplot coordinates {(0,3.28)(5,3.29)(10,3.23)(15,3.13)(20,3.06)(25,3.05)(30,3.07)(35,3.10)(40,3.12)(45,3.12)(50,3.11)(55,3.11)(60,3.11)(65,3.14)(70,3.26)(75,3.33)(80,3.35)(85,3.36)(90,3.36)(95,3.36)(100,3.35)};
\addplot coordinates {(0,3.21)(5,3.23)(10,3.19)(15,3.10)(20,3.05)(25,3.05)(30,3.07)(35,3.10)(40,3.11)(45,3.10)(50,3.11)(55,3.10)(60,3.09)(65,3.11)(70,3.20)(75,3.30)(79,3.35)(83,3.28)(88,3.28)(94,3.28)(100,3.28)};
\addplot coordinates {(0,3.22)(5,3.24)(10,3.19)(15,3.10)(20,3.05)(25,3.04)(30,3.06)(35,3.09)(40,3.11)(45,3.12)(50,3.10)(55,3.09)(60,3.08)(65,3.08)(70,3.14)(74,3.24)(78,3.37)(81,3.28)(85,3.24)(90,3.26)(100,3.26)};
\end{axis}
\begin{axis}[angle, at={(498.5pt,-452.25pt)}, title={Angle - Ring Middle-Distal}]
\addplot coordinates {(0,2.83)(5,2.84)(10,2.85)(15,2.85)(19,2.85)(22,2.76)(25,2.58)(28,2.49)(35,2.50)(45,2.50)(55,2.50)(62,2.50)(66,2.53)(70,2.65)(74,2.78)(78,2.82)(83,2.88)(88,2.82)(92,2.84)(96,2.82)(100,2.82)};
\addplot coordinates {(0,2.84)(5,2.83)(10,2.85)(15,2.85)(20,2.84)(23,2.70)(26,2.55)(30,2.53)(35,2.55)(45,2.55)(55,2.53)(63,2.53)(67,2.60)(71,2.73)(75,2.80)(80,2.84)(84,2.90)(88,2.84)(93,2.82)(100,2.83)};
\addplot coordinates {(0,2.80)(3,2.75)(6,2.79)(10,2.84)(15,2.85)(20,2.84)(23,2.73)(26,2.58)(30,2.54)(35,2.56)(40,2.55)(45,2.54)(55,2.53)(63,2.52)(67,2.58)(71,2.70)(75,2.78)(80,2.83)(85,2.85)(90,2.80)(92,2.72)(95,2.80)(100,2.82)};
\addplot coordinates {(0,2.82)(5,2.83)(10,2.85)(15,2.85)(20,2.84)(23,2.66)(26,2.52)(30,2.51)(35,2.52)(45,2.53)(55,2.52)(63,2.52)(67,2.57)(71,2.70)(75,2.80)(80,2.84)(84,2.88)(88,2.83)(92,2.85)(100,2.82)};
\addplot coordinates {(0,2.86)(5,2.84)(10,2.85)(15,2.85)(20,2.84)(23,2.69)(26,2.54)(30,2.52)(35,2.53)(45,2.53)(55,2.52)(62,2.53)(66,2.61)(70,2.74)(74,2.81)(80,2.84)(84,2.87)(88,2.85)(94,2.84)(98,2.83)(100,2.88)};
\addplot coordinates {(0,2.84)(5,2.84)(10,2.85)(15,2.86)(20,2.85)(23,2.73)(26,2.57)(30,2.50)(35,2.49)(45,2.50)(55,2.50)(63,2.50)(67,2.55)(71,2.68)(75,2.79)(80,2.82)(85,2.86)(90,2.83)(95,2.82)(100,2.84)};
\addplot coordinates {(0,2.85)(5,2.85)(10,2.85)(15,2.85)(20,2.84)(24,2.75)(27,2.57)(30,2.53)(35,2.52)(45,2.53)(55,2.52)(63,2.53)(67,2.58)(71,2.71)(75,2.80)(80,2.84)(83,2.91)(87,2.85)(92,2.82)(100,2.82)};
\end{axis}
%================ ROW 5 =================
\begin{axis}[force, at={(42.5pt,-570.65pt)}, title={Force - Pinky}]
\addplot coordinates {(0,0)(24,0)(25.5,1)(26.5,1.5)(27.5,2.0)(28.5,2.5)(29.5,2.9)(30.5,2.7)(31.5,2.5)(33,2.2)(34.5,2.0)(36,1.9)(37.5,1.8)(38.5,2.1)(39.5,2.3)(40.5,2.5)(41.5,2.6)(42.5,2.9)(43.5,3.1)(44.5,3.4)(45.7,3.7)(46.7,3.3)(47.8,2.9)(48.8,3.0)(49.8,2.6)(51,2.8)(52.9,2.9)(54,2.3)(55,1.7)(56,1.9)(57,2.0)(58,1.3)(59,0.9)(60,1.0)(61,0.9)(62,0.7)(63,0.6)(64,0.5)(65,0.7)(66,0.6)(68,0.3)(69.5,0)(100,0)};
\addplot coordinates {(0,0)(21,0)(22.5,1)(23.5,2.2)(24.7,3.0)(25.3,2.5)(26,2.0)(27,2.4)(27.5,2.2)(28.5,1.7)(29,1.9)(30,2.1)(31,1.8)(32,1.5)(33,1.2)(34.5,1.4)(35.5,1.6)(36.5,1.2)(37.5,1.4)(38.5,1.6)(39.5,1.8)(40.5,1.4)(41.5,1.2)(43,1.1)(44,1.0)(45.5,0.8)(47,0.7)(48.5,0.7)(50,0.6)(52,0.6)(54,0.5)(56,0.5)(57,0.9)(58,0.4)(60,0.6)(62,0.4)(64,0.1)(65,0)(100,0)};
\addplot coordinates {(0,0)(21,0)(22.5,1)(23.5,1.5)(24.5,1.9)(25.5,2.1)(26.5,2.2)(27.2,2.4)(28,2.6)(29,2.3)(30,2.0)(31,2.3)(32,2.5)(33,2.3)(34.5,2.2)(35.5,2.0)(37,1.8)(38,1.6)(39.5,1.4)(41,1.5)(42,1.5)(43,1.3)(43.5,1.2)(44.5,0.2)(45.5,0)(100,0)};
\addplot coordinates {(0,0)(23,0)(24.5,1.5)(25,2.2)(26,2.5)(26.5,2.8)(27.5,3.5)(28.5,4.0)(29,4.5)(30,3.5)(30.5,4.6)(31,5.2)(31.8,4.2)(32.5,3.5)(33.5,3.1)(34,3.2)(35,2.5)(36,2.1)(37,1.8)(38,1.5)(39,1.3)(40,1.6)(41,1.8)(42,1.5)(43,1.5)(44,1.2)(45,0.9)(46,0.7)(47,0.6)(48.5,0.7)(50,0.8)(52,0.7)(54,0.6)(56,0.6)(58,0.6)(60,0.9)(61,1.0)(62,1.2)(63,1.8)(64,1.2)(65,0.8)(66,0.6)(67,0.4)(68,0.2)(69,0)(100,0)};
\addplot coordinates {(0,0)(23,0)(24.5,0.8)(25.5,1.5)(26,2.0)(27,2.2)(28,2.5)(29,2.9)(29.5,3.4)(30.5,3.0)(31.5,2.8)(32.5,2.7)(33.5,2.6)(34.5,2.4)(35.5,2.3)(36.5,2.1)(37.5,2.0)(38.5,1.9)(39.5,1.8)(40.5,1.6)(41.5,1.5)(42.5,1.3)(43.5,1.2)(44.5,1.3)(45.5,1.4)(46.5,1.1)(47.5,0.9)(48.5,1.0)(49.5,1.2)(50.5,1.3)(51.5,1.5)(52.5,1.1)(54,0.9)(55,0.7)(56,0.6)(58,0.5)(60,0.6)(62.5,0.1)(64,0)(100,0)};
\addplot coordinates {(0,0)(24,0)(25.5,0.5)(26.5,0.9)(27.5,1.2)(28.5,1.1)(29.5,1.2)(31,1.0)(32,0.9)(33.5,1.0)(35,1.0)(36.5,1.1)(37.5,1.1)(39,0.8)(40,0.6)(41.5,0.8)(43,0.9)(45,0.7)(47.5,0.6)(50,0.5)(52,0.4)(54,0.4)(56,0.3)(59,0.3)(62,0.3)(65,0)(100,0)};
\addplot coordinates {(0,0)(24.5,0)(25.5,0.5)(26.5,1.0)(27.5,1.5)(28.5,1.6)(29.5,1.7)(30.5,1.5)(31.5,1.4)(32.5,1.3)(33.5,1.1)(34.5,0.8)(35.5,0.6)(36.5,0.5)(37.5,0.5)(38.5,0.8)(39.5,1.0)(40.5,1.3)(41.5,1.5)(42.5,1.7)(43.5,2.0)(44.5,1.7)(45.5,1.4)(46.5,1.5)(47.5,1.7)(48.5,1.8)(49.5,2.0)(50.5,1.4)(51.5,0)(77.5,0)(78,0.3)(78.5,0)(100,0)};
\end{axis}
\begin{axis}[angle, at={(270.5pt,-570.65pt)}, title={Angle - Pinky Palm-Proximal},
  xlabel={Cycle [\%]}, xlabel style={font=\labfont, text=axcol, at={(axis description cs:0.5,0)}, anchor=base, yshift=-36.5pt},
  legend columns=7,
  legend style={at={(axis description cs:0.402,-0.591)}, anchor=north, draw=axcol, line width=0.5pt, font=\legfont,
    inner xsep=3pt, inner ysep=6pt, /tikz/every even column/.append style={column sep=8pt}},
  legend image code/.code={\draw[#1, line width=0.6pt] (0pt,0pt) -- (45pt,0pt);}]
\addplot coordinates {(0,3.16)(6.8,3.08)(17,3.00)(20.1,2.92)(27.2,2.85)(37.4,2.83)(42.5,2.79)(47.6,2.88)(57.7,2.90)(67.9,2.85)(74,2.93)(80.1,3.08)(84.2,2.98)(85.7,2.74)(87.3,2.98)(93,3.05)(100,3.11)};
\addplot coordinates {(0,3.14)(6.8,3.08)(17,3.01)(20.1,2.91)(24,2.93)(26.2,3.03)(27.2,2.88)(30,2.92)(34.3,3.16)(36.4,2.90)(47.6,2.93)(57.7,2.92)(67.9,2.93)(74,2.98)(78.1,3.13)(81.2,2.98)(88.3,3.08)(100,3.13)};
\addplot coordinates {(0,3.15)(6.8,3.10)(12.9,3.11)(17,3.13)(20.1,2.95)(27.2,2.90)(37.4,2.92)(47.6,2.98)(52.6,3.03)(55.7,2.83)(59.8,2.80)(66.9,2.70)(70,3.00)(78.1,3.16)(81.2,2.98)(83.2,2.76)(85.2,2.90)(88.3,2.90)(93.4,3.00)(100,3.13)};
\addplot coordinates {(0,3.17)(6.8,3.08)(17,3.00)(20.1,2.92)(27.2,2.90)(37.4,2.98)(40.4,3.06)(43.5,2.93)(52.6,2.88)(62.8,2.90)(70,2.85)(77.1,3.08)(83.2,3.00)(88.3,2.98)(100,3.11)};
\addplot coordinates {(0,3.15)(5,3.10)(8.9,2.93)(12,3.03)(15,3.08)(18.5,3.21)(19.6,2.90)(21.1,2.85)(27.2,2.88)(36.4,3.00)(39.4,3.18)(41.4,3.38)(42.5,3.13)(43.5,2.88)(52.6,2.93)(65.9,2.93)(66.9,3.08)(70,3.06)(74,3.08)(78.1,3.13)(82.2,3.20)(88.3,3.20)(98.5,3.18)(100,3.13)};
\addplot coordinates {(0,3.17)(1.7,3.21)(6.8,3.08)(17,3.06)(20.1,2.95)(27.2,2.91)(37.4,2.93)(47.6,2.95)(57.7,2.98)(67.9,2.98)(78.1,3.08)(81.2,3.17)(88.3,3.16)(100,3.13)};
\addplot coordinates {(0,3.15)(6.8,3.09)(15,3.05)(18,3.00)(20.1,2.80)(23.1,2.80)(25.7,2.68)(27.2,2.88)(33.3,3.06)(37.4,2.83)(41.4,3.06)(45.5,2.98)(53.7,2.85)(62.8,2.88)(67.9,2.90)(74,3.06)(78.1,3.23)(81.2,2.98)(86.3,3.06)(90.3,3.08)(100,3.13)};
\legend{Trial 01,Trial 02,Trial 03,Trial 04,Trial 05,Trial 06,Trial 07}
\end{axis}
\begin{axis}[angle, at={(498.5pt,-570.65pt)}, title={Angle - Pinky Middle-Distal}]
\addplot coordinates {(0,2.85)(5,2.83)(10,2.82)(18.4,2.83)(24.5,2.75)(28.6,2.65)(32.7,2.57)(36.7,2.55)(38.8,2.65)(39.8,2.52)(41.8,2.45)(44.9,2.55)(49,2.52)(52,2.60)(55.1,2.52)(59.2,2.50)(64.3,2.55)(69.4,2.60)(73.5,2.70)(79.6,2.83)(83.7,2.83)(85.2,2.55)(86,2.17)(87.2,2.65)(88.8,2.85)(93.9,2.80)(98,2.73)(100,3.03)};
\addplot coordinates {(0,2.70)(2,2.85)(8,2.84)(15,2.82)(18.4,2.80)(23.5,2.50)(26.5,2.42)(31.6,2.32)(34.7,2.45)(38.8,2.45)(49,2.47)(59.2,2.50)(67.3,2.55)(69.4,2.85)(73.5,2.83)(79.6,2.83)(85.7,2.80)(89.8,2.85)(94.9,2.75)(100,2.83)};
\addplot coordinates {(0,2.85)(5,2.84)(10,2.85)(18.4,2.85)(22.4,2.63)(27.6,2.55)(38.8,2.50)(49,2.55)(59.2,2.55)(68.4,2.63)(71.4,2.75)(79.6,2.83)(85.7,2.85)(91.8,2.60)(95.9,2.70)(100,2.83)};
\addplot coordinates {(0,2.83)(5,2.84)(10,2.82)(18.4,2.80)(22.4,2.55)(25.5,2.42)(28.6,2.42)(38.8,2.40)(49,2.45)(59.2,2.47)(69.4,2.50)(73.5,2.70)(79.6,2.80)(84.7,2.78)(89.8,2.83)(94.9,2.70)(100,2.85)};
\addplot coordinates {(0,2.80)(4,2.87)(8.2,2.78)(9.2,2.65)(13.3,2.78)(16.3,2.73)(18.9,2.45)(20.4,2.73)(24.5,2.45)(27.6,2.35)(31.6,2.40)(38.8,2.42)(42.9,2.45)(43.9,2.32)(45.9,2.45)(59.2,2.50)(67.3,2.55)(68.4,2.75)(71.4,2.83)(73.5,2.55)(75.5,2.83)(84.7,2.88)(89.8,2.78)(94.9,2.83)(100,2.85)};
\addplot coordinates {(0,2.86)(5,2.84)(10,2.83)(18.4,2.83)(21.4,2.70)(25.5,2.50)(28.6,2.45)(38.8,2.45)(49,2.50)(59.2,2.50)(65.3,2.45)(69.4,2.55)(73.5,2.70)(79.6,2.80)(89.8,2.75)(94.9,2.80)(100,2.62)};
\addplot coordinates {(0,2.57)(2,2.88)(4.1,2.75)(10.2,2.78)(18.4,2.80)(21.4,2.55)(24,2.30)(26.5,2.60)(30.6,2.55)(33.2,2.68)(35.7,2.55)(38.8,2.40)(43.9,2.50)(49,2.45)(59.2,2.52)(69.4,2.57)(71.4,2.78)(73.5,2.75)(75.5,2.78)(79.6,2.83)(84.7,2.70)(87.8,2.83)(89.8,2.65)(92.9,2.80)(94.9,2.68)(96.9,2.85)(99,2.68)(100,2.90)};
\end{axis}
\end{tikzpicture}
\end{document}
